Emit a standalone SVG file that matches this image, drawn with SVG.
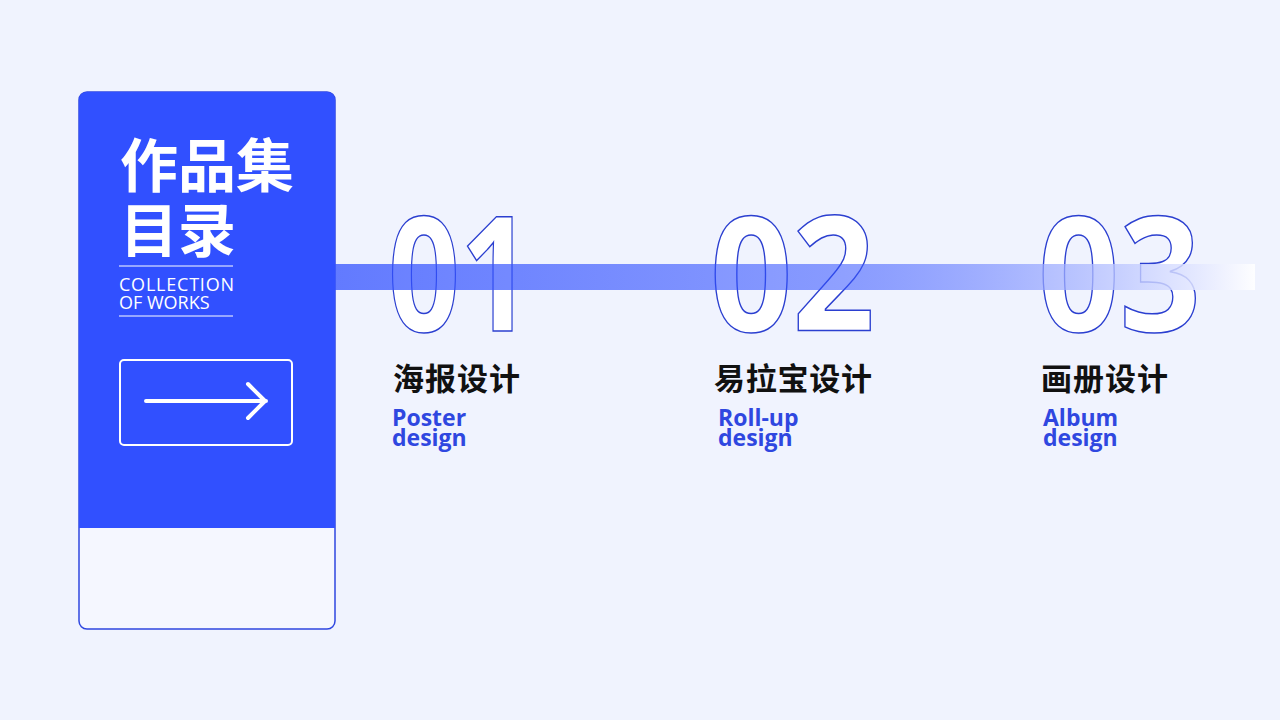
<svg xmlns="http://www.w3.org/2000/svg" width="1280" height="720" viewBox="0 0 1280 720">
<defs>
<linearGradient id="bar" x1="0" x2="1" y1="0" y2="0">
<stop offset="0" stop-color="#3352ff" stop-opacity="0.75"/>
<stop offset="0.55" stop-color="#3352ff" stop-opacity="0.55"/>
<stop offset="1" stop-color="#ffffff" stop-opacity="0.9"/>
</linearGradient>
<clipPath id="top"><rect x="79" y="92" width="256" height="436"/></clipPath>
<style>
.num{font-family:"Open Sans","Liberation Sans",sans-serif;font-weight:700;font-size:160px;fill:#fff;stroke:#2b3fd0;stroke-width:1.5}
.cn{font-family:"Noto Sans CJK SC",sans-serif;font-weight:700;font-size:31px;fill:#111}
.en{font-family:"Open Sans","Liberation Sans",sans-serif;font-weight:700;font-size:23px;fill:#2f47e0}
</style>
</defs>
<rect width="1280" height="720" fill="#f0f3fe"/>
<g id="panel">
<rect x="79" y="92" width="256" height="537" rx="8" fill="#f5f7ff" stroke="#2f47e0" stroke-width="1.5"/>
<rect x="79" y="92" width="256" height="537" rx="8" fill="#3150ff" clip-path="url(#top)"/>
<text x="120" y="187" font-family="Noto Sans CJK SC,sans-serif" font-weight="700" font-size="58" fill="#fff">作品集</text>
<text x="120" y="252" font-family="Noto Sans CJK SC,sans-serif" font-weight="700" font-size="58" fill="#fff">目录</text>
<line x1="119" y1="266" x2="233" y2="266" stroke="#fff" stroke-width="1"/>
<text x="119" y="291" font-family="Open Sans,Liberation Sans,sans-serif" font-size="18" fill="#fff" textLength="115">COLLECTION</text>
<text x="119" y="309" font-family="Open Sans,Liberation Sans,sans-serif" font-size="18" fill="#fff">OF WORKS</text>
<line x1="119" y1="316" x2="233" y2="316" stroke="#fff" stroke-width="1"/>
<rect x="120" y="360" width="172" height="85" rx="4" fill="none" stroke="#fff" stroke-width="2"/>
<path d="M146 401H266M248 384L265 401L248 418" fill="none" stroke="#fff" stroke-width="4" stroke-linecap="round" stroke-linejoin="round"/>
</g>
<g id="n1">
<text class="num" x="388" y="331" textLength="144" lengthAdjust="spacingAndGlyphs">01</text>
<text class="cn" x="393" y="390" textLength="127">海报设计</text>
<text class="en" x="392" y="426">Poster</text><text class="en" x="392" y="446">design</text>
</g>
<g id="n2">
<text class="num" x="710" y="331" textLength="165" lengthAdjust="spacingAndGlyphs">02</text>
<text class="cn" x="714" y="390" textLength="158">易拉宝设计</text>
<text class="en" x="718" y="426">Roll-up</text><text class="en" x="718" y="446">design</text>
</g>
<g id="n3">
<text class="num" x="1038" y="331" textLength="163" lengthAdjust="spacingAndGlyphs">03</text>
<text class="cn" x="1041" y="390" textLength="127">画册设计</text>
<text class="en" x="1043" y="426">Album</text><text class="en" x="1043" y="446">design</text>
</g>
<g id="connectors">
<rect x="335" y="264" width="920" height="26" fill="url(#bar)"/>
</g>
</svg>
